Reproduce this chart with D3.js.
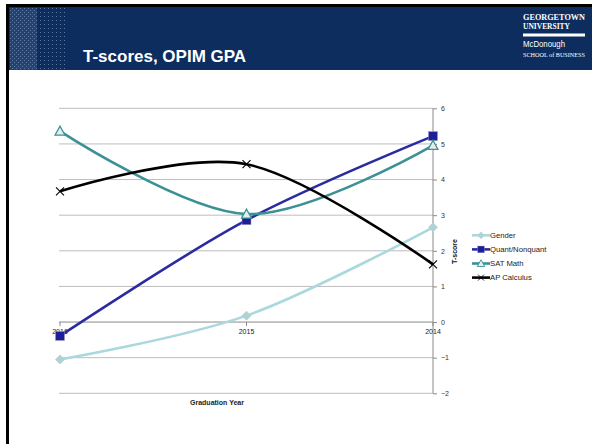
<!DOCTYPE html>
<html><head><meta charset="utf-8">
<script src="https://cdn.jsdelivr.net/npm/d3@7"></script>
<style>
html,body{margin:0;padding:0;background:#fff;}
svg{display:block;font-family:"Liberation Sans",Arial,sans-serif;}
</style></head>
<body>
<svg id="c" width="592" height="444"></svg>
<script>
const categories = ["2016", "2015", "2014"];
const gender = [-1.05, 0.18, 2.66];
const quant = [-0.39, 2.86, 5.22];
const satMath = [5.36, 3.03, 4.96];
const apCalc = [3.67, 4.43, 1.62];
const yTicks = [-2, -1, 0, 1, 2, 3, 4, 5, 6];
const seriesNames = ["Gender", "Quant/Nonquant", "SAT Math", "AP Calculus"];

const series = [
  {name: seriesNames[0], values: gender, color: "#a9d9dd", marker: "diamond"},
  {name: seriesNames[1], values: quant, color: "#2b2ba0", marker: "square"},
  {name: seriesNames[2], values: satMath, color: "#3b9195", marker: "triangle"},
  {name: seriesNames[3], values: apCalc, color: "#000000", marker: "x"}
];

const svg = d3.select("#c");

// slide frame + header
svg.append("rect").attr("x", 6).attr("y", 4).attr("width", 586).attr("height", 440).attr("fill", "#000");
svg.append("rect").attr("x", 9).attr("y", 7).attr("width", 583).attr("height", 437).attr("fill", "#fff");
svg.append("rect").attr("x", 9).attr("y", 7).attr("width", 583).attr("height", 63).attr("fill", "#0c2d5e");
// texture block
const pat = svg.append("g");
for (let yy = 8; yy < 70; yy += 2) {
  for (let xx = 10; xx < 66; xx += 2) {
    const dense = xx < 37;
    if (dense ? ((xx + yy) % 4 === 0) : ((xx % 4 === 0) && (yy % 4 === 0))) {
      pat.append("rect").attr("x", xx).attr("y", yy).attr("width", 1).attr("height", 1)
        .attr("fill", dense ? "#8397b7" : "#5d76a0");
    }
  }
}
svg.append("rect").attr("x", 10).attr("y", 8).attr("width", 27).attr("height", 62).attr("fill", "#3c5a88").attr("opacity", 0.5);
svg.append("text").attr("x", 83).attr("y", 62).attr("fill", "#fff")
  .attr("font-size", 17).attr("font-weight", "bold").text("T-scores, OPIM GPA");
// logo
const logo = svg.append("g").attr("fill", "#fff").attr("font-family", "Liberation Serif, serif");
logo.append("text").attr("x", 523).attr("y", 19.5).attr("font-size", 8.5).attr("font-weight", "bold")
  .attr("textLength", 62).attr("lengthAdjust", "spacingAndGlyphs").text("GEORGETOWN");
logo.append("text").attr("x", 523).attr("y", 29).attr("font-size", 8.5).attr("font-weight", "bold")
  .attr("textLength", 47).attr("lengthAdjust", "spacingAndGlyphs").text("UNIVERSITY");
logo.append("rect").attr("x", 523).attr("y", 33.5).attr("width", 62).attr("height", 3);
logo.append("text").attr("x", 523).attr("y", 47).attr("font-size", 8.5).attr("font-family", "Liberation Sans, Arial, sans-serif")
  .attr("textLength", 42).attr("lengthAdjust", "spacingAndGlyphs").text("McDonough");
logo.append("text").attr("x", 523).attr("y", 56.5).attr("font-size", 6)
  .attr("textLength", 62).attr("lengthAdjust", "spacingAndGlyphs").text("SCHOOL of BUSINESS");

// chart
const x = d3.scalePoint().domain(categories).range([60, 433]).padding(0);
const y = d3.scaleLinear().domain([-2, 6]).range([393.3, 108.3]);

const g = svg.append("g");
// gridlines
g.selectAll("line.grid").data(yTicks).join("line")
  .attr("x1", 59).attr("x2", 433)
  .attr("y1", d => y(d)).attr("y2", d => y(d))
  .attr("stroke", d => d === 0 ? "#8a8a8a" : "#bdbdbd").attr("stroke-width", 1);

// right axis
const yAxis = d3.axisRight(y).tickValues(yTicks).tickSize(4).tickPadding(4).tickFormat(d3.format("d"));
const ya = g.append("g").attr("transform", "translate(433,0)").call(yAxis);
ya.select(".domain").attr("stroke", "#8a8a8a").attr("d", `M0,${y(6)}V${y(-2)}`);
ya.selectAll(".tick line").attr("stroke", "#8a8a8a");
ya.selectAll(".tick text").attr("font-size", 7).attr("fill", "#333").attr("font-family", "Liberation Sans, Arial, sans-serif");

// category ticks on zero line
g.selectAll("line.ctick").data(categories).join("line")
  .attr("x1", d => x(d)).attr("x2", d => x(d))
  .attr("y1", y(0)).attr("y2", y(0) + 4).attr("stroke", "#8a8a8a");
g.selectAll("text.cat").data(categories).join("text")
  .attr("x", d => x(d)).attr("y", y(0) + 12).attr("text-anchor", "middle")
  .attr("font-size", 7).attr("fill", "#222").text(d => d);

// axis titles
svg.append("text").attr("x", 217).attr("y", 405).attr("text-anchor", "middle")
  .attr("font-size", 7).attr("font-weight", "bold").attr("fill", "#222").text("Graduation Year");
svg.append("text").attr("transform", "translate(457,251.5) rotate(-90)").attr("text-anchor", "middle")
  .attr("font-size", 7).attr("font-weight", "bold").attr("fill", "#111").text("T-score");

// lines
const line = d3.line().x((d, i) => x(categories[i])).y(d => y(d)).curve(d3.curveCardinal.tension(0));
series.forEach(s => {
  g.append("path").attr("d", line(s.values)).attr("fill", "none")
    .attr("stroke", s.color).attr("stroke-width", 2.6);
});

function drawMarker(sel, s, cx, cy) {
  if (s.marker === "diamond") {
    sel.append("path").attr("d", `M${cx},${cy-4.5}L${cx+4.5},${cy}L${cx},${cy+4.5}L${cx-4.5},${cy}Z`)
      .attr("fill", "#a9d4d8").attr("stroke", "#c9c9c9").attr("stroke-width", 0.8);
  } else if (s.marker === "square") {
    sel.append("rect").attr("x", cx - 4.5).attr("y", cy - 4.5).attr("width", 9).attr("height", 9)
      .attr("fill", "#1e1e9a").attr("stroke", "#9a9ab8").attr("stroke-width", 0.5);
  } else if (s.marker === "triangle") {
    sel.append("path").attr("d", `M${cx},${cy-5}L${cx+5},${cy+4}L${cx-5},${cy+4}Z`)
      .attr("fill", "#e4ecec").attr("stroke", "#3b9195").attr("stroke-width", 1.2);
  } else {
    sel.append("path").attr("d", `M${cx-4},${cy-4}L${cx+4},${cy+4}M${cx-4},${cy+4}L${cx+4},${cy-4}`)
      .attr("stroke", "#000").attr("stroke-width", 1.1).attr("fill", "none");
  }
}
series.forEach(s => {
  const mg = g.append("g");
  s.values.forEach((v, i) => drawMarker(mg, s, x(categories[i]), y(v)));
});

// legend
const lg = svg.append("g");
series.forEach((s, i) => {
  const ly = 235.3 + i * 14.1;
  lg.append("line").attr("x1", 472).attr("x2", 490).attr("y1", ly).attr("y2", ly)
    .attr("stroke", s.color).attr("stroke-width", 2.6);
  const mg = lg.append("g").attr("transform", `translate(481,${ly}) scale(0.75) translate(-481,${-ly})`);
  drawMarker(mg, s, 481, ly);
  lg.append("text").attr("x", 490).attr("y", ly + 2.7).attr("font-size", 7.7).attr("fill", "#222").text(s.name);
});
</script>
</body></html>
